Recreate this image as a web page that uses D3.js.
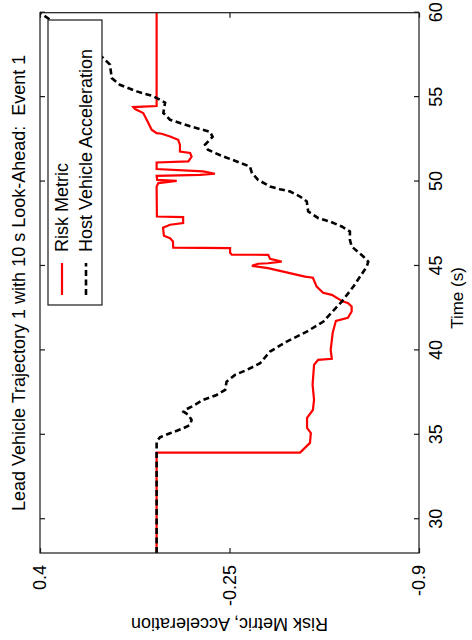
<!DOCTYPE html>
<html>
<head>
<meta charset="utf-8">
<script src="https://cdn.jsdelivr.net/npm/d3@7"></script>
<style>
  body { margin: 0; background: #fff; }
  svg { display: block; }
  text { font-family: "Liberation Sans", Arial, sans-serif; fill: #000; white-space: pre; }
</style>
</head>
<body>
<svg id="chart" width="472" height="640"></svg>
<script>
// Risk metric (red, solid) over time
const riskTime = [28, 33.94, 33.95, 34.52, 35.11, 35.41, 36.0, 36.47, 37.07, 37.96, 39.14, 39.44, 39.50, 40.03,
  41.04, 41.75, 41.93, 42.30, 42.60, 42.81, 42.89, 43.29, 43.41, 43.78, 44.30, 44.37, 44.71, 44.87, 45.01,
  45.13, 45.16, 45.26, 45.42, 45.66, 45.67, 45.78, 46.06, 46.09, 46.45, 46.65, 46.79, 47.26, 47.44, 47.54,
  47.89, 47.93, 49.71, 49.91, 50.04, 50.10, 50.34, 50.40, 50.46, 50.60, 50.74, 50.89, 51.13, 51.19, 51.48,
  51.69, 51.78, 52.18, 52.47, 52.67, 52.83, 52.87, 53.07, 53.66, 54.06, 54.29, 54.41, 54.47, 60];
const riskValue = [0, 0, -0.492, -0.526, -0.529, -0.516, -0.516, -0.536, -0.540, -0.535, -0.540, -0.554, -0.601, -0.597,
  -0.604, -0.615, -0.656, -0.669, -0.669, -0.656, -0.639, -0.601, -0.571, -0.549, -0.536, -0.509, -0.423, -0.382, -0.327,
  -0.348, -0.382, -0.429, -0.389, -0.383, -0.258, -0.252, -0.252, -0.057, -0.056, -0.046, -0.025, -0.022, -0.046, -0.091,
  -0.091, -0.001, 0, -0.006, -0.069, -0.002, 0, -0.149, -0.200, -0.160, 0, 0, 0, -0.109, -0.120,
  -0.115, -0.080, -0.080, -0.074, -0.046, -0.017, 0, 0.017, 0.034, 0.046, 0.074, 0.080, 0, 0];

// Host vehicle acceleration (black, dashed) over time
const accelTime = [28, 34.60, 34.86, 35.09, 35.39, 35.59, 35.88, 36.18, 36.37, 36.47, 36.67, 37.07, 37.36, 37.66,
  38.15, 38.55, 38.84, 39.24, 39.93, 40.52, 41.11, 41.71, 42.89, 43.78, 44.97, 45.26, 45.56, 46.15, 46.55,
  47.04, 47.34, 47.63, 47.83, 48.23, 48.82, 49.11, 49.41, 49.55, 49.71, 50.10, 50.50, 50.89, 51.19, 51.48,
  51.88, 52.18, 52.65, 52.95, 53.27, 53.66, 54.06, 54.67, 55.05, 55.34, 55.73, 56.13, 56.92, 57.32, 59.59, 60];
const accelValue = [0, 0, -0.012, -0.046, -0.092, -0.115, -0.120, -0.109, -0.092, -0.097, -0.120, -0.160, -0.206, -0.235,
  -0.240, -0.269, -0.309, -0.355, -0.389, -0.446, -0.515, -0.572, -0.635, -0.675, -0.721, -0.726, -0.709, -0.669, -0.663,
  -0.663, -0.635, -0.595, -0.555, -0.520, -0.515, -0.492, -0.458, -0.423, -0.389, -0.348, -0.327, -0.320, -0.275, -0.229,
  -0.176, -0.166, -0.192, -0.183, -0.115, -0.046, -0.023, -0.029, 0.011, 0.068, 0.126, 0.154, 0.160, 0.183, 0.366, 0.40];

const timeDomain = [28, 60];
const valueDomain = [-0.9, 0.4];
const timeTicks = [30, 35, 40, 45, 50, 55, 60];
const valueTicks = [0.4, -0.25, -0.9];
const valueTickLabels = ["0.4", "-0.25", "-0.9"];

const titleText = "Lead Vehicle Trajectory 1 with 10 s Look-Ahead:  Event 1";
const xLabelText = "Time (s)";
const yLabelText = "Risk Metric, Acceleration";
const seriesNames = ["Risk Metric", "Host Vehicle Acceleration"];

// The figure is laid out landscape (640 x 472) and turned a quarter turn counter-clockwise.
const W = 640, H = 472;
const plot = { left: 87, right: 627.3, top: 40, bottom: 419 };

const svg = d3.select("#chart");
const fig = svg.append("g").attr("transform", `translate(0,${W}) rotate(-90)`);

const x = d3.scaleLinear().domain(timeDomain).range([plot.left, plot.right]);
const y = d3.scaleLinear().domain(valueDomain).range([plot.bottom, plot.top]);

fig.append("defs").append("clipPath").attr("id", "plotClip")
  .append("rect")
  .attr("x", plot.left).attr("y", plot.top)
  .attr("width", plot.right - plot.left).attr("height", plot.bottom - plot.top);

const axisColor = "#1a1a1a";
const tickLen = 5;

// Time axis along the bottom (labels) and top (ticks only)
const xAxisBottom = d3.axisBottom(x).tickValues(timeTicks).tickSizeInner(-tickLen).tickSizeOuter(0).tickPadding(10);
const gxb = fig.append("g").attr("transform", `translate(0,${plot.bottom})`).call(xAxisBottom);
const xAxisTop = d3.axisTop(x).tickValues(timeTicks).tickSizeInner(-tickLen).tickSizeOuter(0).tickFormat("");
const gxt = fig.append("g").attr("transform", `translate(0,${plot.top})`).call(xAxisTop);

// Value axis along the left (labels) and right (ticks only)
const yAxisLeft = d3.axisLeft(y).tickValues(valueTicks).tickSizeInner(-tickLen).tickSizeOuter(0).tickPadding(12)
  .tickFormat((d, i) => valueTickLabels[i]);
const gyl = fig.append("g").attr("transform", `translate(${plot.left},0)`).call(yAxisLeft);
const yAxisRight = d3.axisRight(y).tickValues(valueTicks).tickSizeInner(-tickLen).tickSizeOuter(0).tickFormat("");
const gyr = fig.append("g").attr("transform", `translate(${plot.right},0)`).call(yAxisRight);

[gxb, gxt, gyl, gyr].forEach(g => {
  g.select(".domain").remove();
  g.selectAll(".tick line").attr("stroke", axisColor).attr("stroke-width", 1.2);
  g.selectAll(".tick text").attr("font-size", 18).attr("fill", "#000")
    .style("font-family", '"Liberation Sans", Arial, sans-serif');
});

// Data lines
const line = d3.line().x(d => x(d[0])).y(d => y(d[1]));
const riskData = riskTime.map((t, i) => [t, riskValue[i]]);
const accelData = accelTime.map((t, i) => [t, accelValue[i]]);

const lines = fig.append("g").attr("clip-path", "url(#plotClip)");
lines.append("path").datum(riskData)
  .attr("d", line).attr("fill", "none")
  .attr("stroke", "#ff0000").attr("stroke-width", 2.2).attr("stroke-linejoin", "miter");
lines.append("path").datum(accelData)
  .attr("d", line).attr("fill", "none")
  .attr("stroke", "#000").attr("stroke-width", 2.6).attr("stroke-dasharray", "6,3.5");

// Plot frame
fig.append("rect")
  .attr("x", plot.left).attr("y", plot.top)
  .attr("width", plot.right - plot.left).attr("height", plot.bottom - plot.top)
  .attr("fill", "none").attr("stroke", axisColor).attr("stroke-width", 1.2);

// Legend
const leg = { x0: 335, x1: 620, y0: 48, y1: 102 };
const lg = fig.append("g");
lg.append("rect")
  .attr("x", leg.x0).attr("y", leg.y0)
  .attr("width", leg.x1 - leg.x0).attr("height", leg.y1 - leg.y0)
  .attr("fill", "#fff").attr("stroke", axisColor).attr("stroke-width", 1.2);
const legRows = [
  { name: seriesNames[0], color: "#ff0000", width: 2.2, dash: null, yy: 62 },
  { name: seriesNames[1], color: "#000", width: 2.6, dash: "6,3.5", yy: 86 }
];
legRows.forEach(r => {
  lg.append("line")
    .attr("x1", leg.x0 + 10).attr("x2", leg.x0 + 42)
    .attr("y1", r.yy).attr("y2", r.yy)
    .attr("stroke", r.color).attr("stroke-width", r.width)
    .attr("stroke-dasharray", r.dash);
  lg.append("text")
    .attr("x", leg.x0 + 53).attr("y", r.yy)
    .attr("dy", "0.35em").attr("font-size", 18)
    .text(r.name);
});

// Title and axis labels
fig.append("text")
  .attr("x", (plot.left + plot.right) / 2).attr("y", 25)
  .attr("text-anchor", "middle").attr("font-size", 18)
  .text(titleText);

fig.append("text")
  .attr("x", 342).attr("y", 463)
  .attr("text-anchor", "middle").attr("font-size", 17)
  .text(xLabelText);

fig.append("text")
  .attr("transform", `translate(22,${(plot.top + plot.bottom) / 2}) rotate(-90)`)
  .attr("text-anchor", "middle").attr("font-size", 18)
  .text(yLabelText);
</script>
</body>
</html>
